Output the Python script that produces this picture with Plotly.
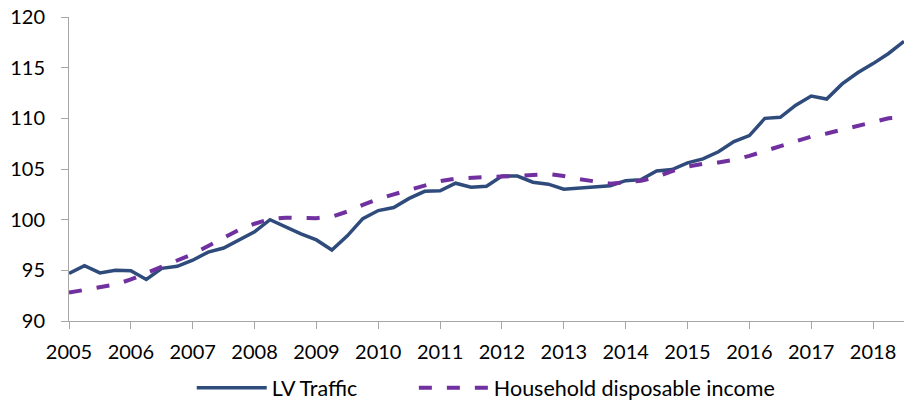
import plotly.graph_objects as go

years = list(range(2005, 2019))
quarters = [f"{y} Q{q}" for y in range(2005, 2019) for q in range(1, 5)][:55]

lv_traffic = [
    94.7, 95.45, 94.75, 95.0, 94.95, 94.1, 95.2, 95.4,
    96.0, 96.8, 97.2, 98.0, 98.8, 100.0, 99.3, 98.6,
    98.0, 97.0, 98.4, 100.1, 100.9, 101.2, 102.1, 102.8,
    102.85, 103.6, 103.2, 103.3, 104.3, 104.3, 103.7, 103.5,
    103.0, 103.1, 103.2, 103.35, 103.85, 103.95, 104.8, 104.95,
    105.6, 106.0, 106.7, 107.7, 108.3, 110.0, 110.1, 111.3,
    112.2, 111.9, 113.4, 114.5, 115.4, 116.4, 117.6,
]

household_income = [
    92.8, 93.1, 93.35, 93.6, 94.1, 94.7, 95.3, 95.9,
    96.6, 97.4, 98.2, 99.0, 99.6, 100.05, 100.2, 100.15,
    100.15, 100.3, 100.8, 101.45, 102.05, 102.5, 102.95, 103.4,
    103.8, 104.05, 104.15, 104.2, 104.25, 104.3, 104.4, 104.5,
    104.3, 104.0, 103.75, 103.55, 103.7, 103.85, 104.2, 104.8,
    105.25, 105.5, 105.65, 105.9, 106.3, 106.8, 107.3, 107.75,
    108.2, 108.5, 108.9, 109.3, 109.7, 110.0, 110.1,
]

tick_labels = [str(y) for y in years]
tick_positions = [f"{y} Q1" for y in years]

fig = go.Figure()
fig.add_trace(go.Scatter(
    x=quarters, y=lv_traffic, name="LV Traffic", mode="lines",
    line=dict(color="#2F4B7C", width=3.5), legend="legend",
))
fig.add_trace(go.Scatter(
    x=quarters, y=household_income, name="Household disposable income", mode="lines",
    line=dict(color="#7030A0", width=4, dash="13px,15px"), legend="legend2",
))

fig.update_layout(
    width=904, height=403,
    margin=dict(l=69, r=0, t=17, b=82, autoexpand=False),
    plot_bgcolor="white", paper_bgcolor="white",
    font=dict(family="Lato", size=20, color="black"),
    showlegend=True,
    legend=dict(orientation="h", x=0.147, xanchor="left", y=-0.22, yanchor="middle",
                itemwidth=70, font=dict(size=21.5)),
    legend2=dict(orientation="h", x=0.413, xanchor="left", y=-0.22, yanchor="middle",
                 itemwidth=70, font=dict(size=21.5)),
)
fig.update_xaxes(
    type="category", range=[0, 54], automargin=False,
    tickmode="array", tickvals=tick_positions, ticktext=tick_labels,
    showline=True, linecolor="#A6A6A6", linewidth=1,
    ticks="outside", ticklen=7, tickcolor="#A6A6A6",
    showgrid=False, zeroline=False, ticklabelstandoff=6,
)
fig.update_yaxes(
    range=[90, 120], dtick=5, automargin=False,
    showline=True, linecolor="#A6A6A6", linewidth=1,
    ticks="outside", ticklen=7, tickcolor="#A6A6A6",
    showgrid=False, zeroline=False, ticklabelstandoff=12,
)

fig.write_html(
    "out.html",
    config={"displayModeBar": False},
    post_script="document.body.style.margin='0';document.body.style.overflow='hidden';",
)
